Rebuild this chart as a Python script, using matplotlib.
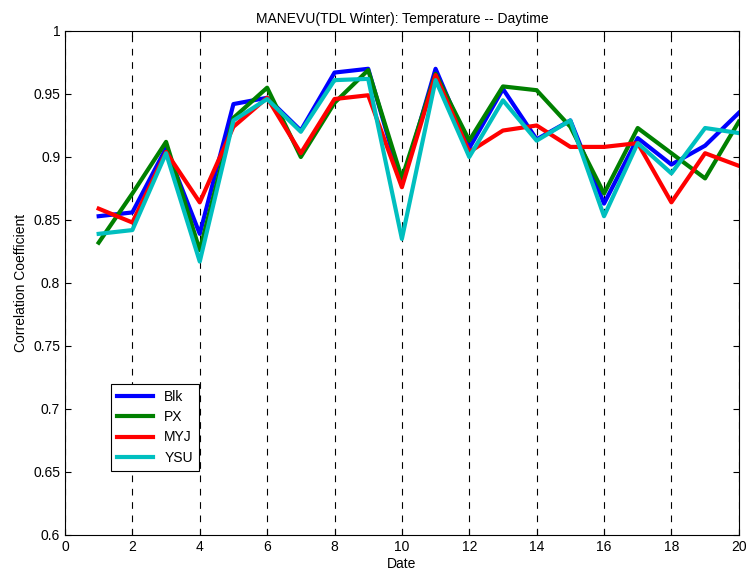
import numpy as np
import matplotlib.pyplot as plt

plt.rcParams['font.family'] = ['Liberation Sans', 'DejaVu Sans']

# daily correlation coefficients per PBL scheme
dates = np.arange(1, 21)
blk = [0.853, 0.856, 0.907, 0.839, 0.942, 0.947, 0.921, 0.967, 0.970, 0.878,
       0.970, 0.907, 0.954, 0.914, 0.929, 0.863, 0.915, 0.894, 0.909, 0.935]
px = [0.832, 0.871, 0.912, 0.826, 0.931, 0.955, 0.900, 0.943, 0.969, 0.883,
      0.966, 0.913, 0.956, 0.953, 0.924, 0.871, 0.923, 0.903, 0.883, 0.928]
myj = [0.859, 0.848, 0.904, 0.864, 0.924, 0.947, 0.903, 0.946, 0.949, 0.876,
       0.965, 0.904, 0.921, 0.925, 0.908, 0.908, 0.911, 0.864, 0.903, 0.893]
ysu = [0.839, 0.842, 0.903, 0.817, 0.929, 0.946, 0.920, 0.961, 0.962, 0.835,
       0.961, 0.900, 0.945, 0.913, 0.929, 0.853, 0.911, 0.887, 0.923, 0.919]

series = [('Blk', blk, (0, 0, 1)),
          ('PX', px, (0, 0.5, 0)),
          ('MYJ', myj, (1, 0, 0)),
          ('YSU', ysu, (0, 0.75, 0.75))]

fig = plt.figure(figsize=(7.47, 5.76), dpi=100)
ax = fig.add_axes([0.087, 0.0712, 0.902, 0.875])

for name, vals, col in series:
    ax.plot(dates, vals, color=col, linewidth=3, label=name)

ax.set_xlim(0, 20)
ax.set_ylim(0.6, 1.0)
ax.set_xticks(np.arange(0, 21, 2))
ax.set_yticks(np.arange(0.6, 1.001, 0.05))
ax.set_yticklabels(['0.6', '0.65', '0.7', '0.75', '0.8', '0.85', '0.9', '0.95', '1'])
ax.tick_params(direction='in', length=4, labelsize=10, top=True, right=True)
ax.xaxis.grid(True, linestyle=(0, (6, 6)), color='black', linewidth=0.8)

ax.set_xlabel('Date', fontsize=10, labelpad=2)
ax.set_ylabel('Correlation Coefficient', fontsize=10)
ax.set_title('MANEVU(TDL Winter): Temperature -- Daytime', fontsize=10)

leg = ax.legend(loc='lower left', bbox_to_anchor=(0.068, 0.127), borderaxespad=0,
                fontsize=10, fancybox=False, edgecolor='black', framealpha=1,
                handlelength=2.6, labelspacing=0.45, borderpad=0.45)
leg.get_frame().set_linewidth(0.8)

plt.savefig('out.png', dpi=100)
